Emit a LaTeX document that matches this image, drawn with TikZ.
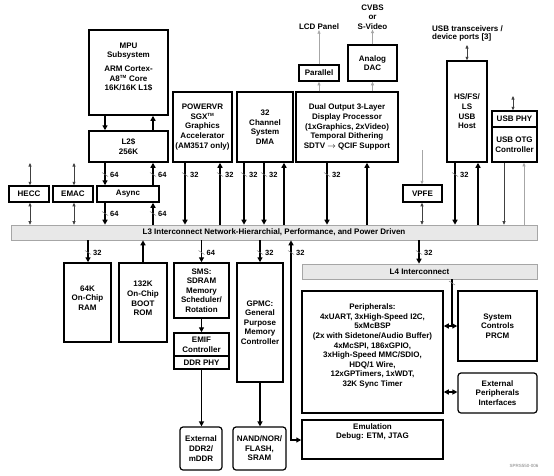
\documentclass[tikz,border=0pt]{standalone}
\usepackage{fontspec}
\setmainfont{Liberation Sans}
\usetikzlibrary{arrows.meta}
\newcommand\fs{\fontsize{8}{9.6}\selectfont\bfseries}
\newcommand\tm{\textsuperscript{\fontsize{4.5}{5}\selectfont TM}}
\begin{document}
\begin{tikzpicture}[x=1pt,y=-1pt,
  box/.style={draw, line width=1.5pt, fill=white, inner sep=0pt, align=center, font=\fs},
  rbox/.style={box, line width=1.2pt, rounded corners=3pt},
  bar/.style={draw=gray!70, fill=gray!18, line width=0.6pt, inner sep=0pt, font=\fs},
  txt/.style={inner sep=0pt, align=center, font=\fs},
  thk/.style={line width=1.6pt, -{Triangle[length=5pt,width=5pt]}},
  thkline/.style={line width=1.6pt},
  thkboth/.style={line width=1.6pt, {Triangle[length=5pt,width=5pt]}-{Triangle[length=5pt,width=5pt]}},
  thn/.style={line width=0.6pt, black!75, -{Triangle[length=3.5pt,width=3pt]}},
  thnboth/.style={line width=0.6pt, black!75, {Triangle[length=3.5pt,width=3pt]}-{Triangle[length=3.5pt,width=3pt]}},
  thngray/.style={line width=0.6pt, gray!70, -{Triangle[length=3.5pt,width=3pt]}},
  slash/.style={line width=0.5pt, gray},
  buslab/.style={anchor=west, inner sep=0pt, font=\fontsize{7.5}{8}\selectfont\bfseries}
]
\newcommand\bus[4]{\draw[slash] (#2-3,#3-2.5) -- (#2+3,#3+1.5); \node[buslab] (#1) at (#2+5,#3) {#4};}
\fill[white] (0,0) rectangle (554,475);
\useasboundingbox (0,0) rectangle (554,475);

% ---------- upper boxes ----------
\node[box, minimum width=79pt, minimum height=85pt] (mpu) at (128.5,72.5) {};
\node[txt] (mputxt) at (128.5,67) {MPU\\Subsystem\\[4pt]ARM Cortex-\\A8\tm{} Core\\16K/16K L1\$};
\node[box, minimum width=79pt, minimum height=31pt] (l2) at (128.5,146.5) {L2\$\\256K};
\node[box, minimum width=62pt, minimum height=16pt] (async) at (128,194) {Async};
\node[box, minimum width=40pt, minimum height=16pt] (hecc) at (29,194) {HECC};
\node[box, minimum width=40pt, minimum height=16pt] (emac) at (73,194) {EMAC};
\node[box, minimum width=59pt, minimum height=70pt] (sgx) at (202.5,127) {POWERVR\\SGX\tm\\Graphics\\Accelerator\\(AM3517 only)};
\node[box, minimum width=56pt, minimum height=70pt] (dma) at (265,127) {32\\Channel\\System\\DMA};
\node[box, minimum width=102pt, minimum height=70pt] (dss) at (347,127) {Dual Output 3-Layer\\Display Processor\\(1xGraphics, 2xVideo)\\Temporal Dithering\\SDTV $\rightarrow$ QCIF Support};
\node[box, minimum width=40pt, minimum height=16pt] (par) at (319,73) {Parallel};
\node[box, minimum width=49pt, minimum height=36pt] (dac) at (372.5,63) {Analog\\DAC};
\node[txt] (lcd) at (319,27) {LCD Panel};
\node[txt] (cvbs) at (372.5,17) {CVBS\\or\\S-Video};
\node[box, minimum width=40pt, minimum height=101pt] (usbh) at (467,111.5) {HS/FS/\\LS\\USB\\Host};
\node[txt, anchor=west] (usbt) at (432,34) {\begin{tabular}{@{}l@{}}USB transceivers /\\[-1.5pt]device ports [3]\end{tabular}};
\node[box, minimum width=45pt, minimum height=16pt] (uphy) at (514.5,119) {USB PHY};
\node[box, minimum width=45pt, minimum height=35pt] (uotg) at (514.5,144.5) {USB OTG\\Controller};
\node[box, minimum width=39pt, minimum height=17pt] (vpfe) at (422.5,193.5) {VPFE};

% ---------- interconnects ----------
\node[bar, minimum width=526pt, minimum height=15pt] (l3) at (274,232.5) {L3 Interconnect Network-Hierarchial, Performance, and Power Driven};
\node[bar, minimum width=235pt, minimum height=15pt] (l4) at (419.5,271.5) {L4 Interconnect};

% ---------- lower boxes ----------
\node[box, minimum width=47pt, minimum height=79pt] (ram) at (87.5,302.5) {};
\node[txt] (ramtxt) at (87.5,298) {64K\\On-Chip\\RAM};
\node[box, minimum width=48pt, minimum height=79pt] (rom) at (143,302.5) {};
\node[txt] (romtxt) at (143,298.5) {132K\\On-Chip\\BOOT\\ROM};
\node[box, minimum width=55pt, minimum height=55pt] (sms) at (201.5,290.5) {SMS:\\SDRAM\\Memory\\Scheduler/\\Rotation};
\node[box, minimum width=55pt, minimum height=23pt] (emif) at (201.5,344.5) {EMIF\\Controller};
\node[box, minimum width=55pt, minimum height=13pt] (ddrphy) at (201.5,362.5) {DDR PHY};
\node[rbox, minimum width=42pt, minimum height=43pt] (xddr) at (201,448.5) {External\\DDR2/\\mDDR};
\node[box, minimum width=46pt, minimum height=119pt] (gpmc) at (260,322.5) {GPMC:\\General\\Purpose\\Memory\\Controller};
\node[rbox, minimum width=53pt, minimum height=43pt] (nand) at (259.5,448.5) {NAND/NOR/\\FLASH,\\SRAM};
\node[box, minimum width=141pt, minimum height=122pt] (per) at (372.5,352) {};
\node[txt] (pertxt) at (372.5,346) {Peripherals:\\4xUART, 3xHigh-Speed I2C,\\5xMcBSP\\(2x with Sidetone/Audio Buffer)\\4xMcSPI, 186xGPIO,\\3xHigh-Speed MMC/SDIO,\\HDQ/1 Wire,\\12xGPTimers, 1xWDT,\\32K Sync Timer};
\node[box, minimum width=79pt, minimum height=70pt] (prcm) at (497.5,326) {System\\Controls\\PRCM};
\node[rbox, minimum width=79pt, minimum height=40pt] (xper) at (497.5,393) {External\\Peripherals\\Interfaces};
\node[box, minimum width=141pt, minimum height=39pt] (emu) at (372.5,439.5) {};
\node[txt] (emutxt) at (372.5,432) {Emulation\\Debug: ETM, JTAG};
\node[inner sep=0pt, text=gray, font=\fontsize{4.5}{5}\selectfont] (ref) at (524,466) {SPRS550-006};

% ---------- connectors, upper ----------
\draw[thk] (mpu.south -| 105,0) -- (l2.north -| 105,0);
\draw[thk] (l2.north -| 153,0) -- (mpu.south -| 153,0);
\draw[thk] (l2.south -| 105,0) -- (async.north -| 105,0);
\draw[thk] (async.north -| 153,0) -- (l2.south -| 153,0);
\draw[thk] (async.south -| 105,0) -- (l3.north -| 105,0);
\draw[thk] (l3.north -| 153,0) -- (async.south -| 153,0);
\bus{b1}{105}{175}{64}\bus{b2}{153}{175}{64}
\bus{b3}{105}{214}{64}\bus{b4}{153}{214}{64}

\coordinate (heccin) at (30,163);
\coordinate (emacin) at (74,163);
\draw[thnboth] (heccin) -- (hecc.north -| heccin);
\draw[thnboth] (hecc.south -| heccin) -- (l3.north -| heccin);
\draw[thnboth] (emacin) -- (emac.north -| emacin);
\draw[thnboth] (emac.south -| emacin) -- (l3.north -| emacin);

\draw[thk] (sgx.south -| 185,0) -- (l3.north -| 185,0);
\draw[thk] (l3.north -| 220,0) -- (sgx.south -| 220,0);
\bus{b5}{185}{175}{32}\bus{b6}{220}{175}{32}

\draw[thk] (dma.south -| 244,0) -- (l3.north -| 244,0);
\draw[thk] (dma.south -| 264,0) -- (l3.north -| 264,0);
\draw[thk] (l3.north -| 284,0) -- (dma.south -| 284,0);
\bus{b7}{244}{175}{32}\bus{b8}{264}{175}{32}

\draw[thk] (dss.south -| 327,0) -- (l3.north -| 327,0);
\draw[thk] (l3.north -| 367,0) -- (dss.south -| 367,0);
\bus{b9}{327}{175}{32}

\draw[thngray] (dss.north -| par.south) -- (par.south);
\draw[thngray] (par.north) -- (lcd.south);
\draw[thngray] (dss.north -| dac.south) -- (dac.south);
\draw[thngray] (dac.north) -- (cvbs.south);

\coordinate (usbtop) at (467,45);
\draw[thnboth] (usbtop) -- (usbh.north);
\draw[thk] (usbh.south -| 455,0) -- (l3.north -| 455,0);
\draw[thk] (l3.north -| 478,0) -- (usbh.south -| 478,0);
\bus{b10}{455}{175}{32}

\coordinate (phytop) at (513,96);
\draw[thnboth] (phytop) -- (uphy.north -| phytop);
\draw[thn] (uotg.south -| 504,0) -- (l3.north -| 504,0);
\draw[thngray] (l3.north -| 524,0) -- (uotg.south -| 524,0);

\coordinate (vpfein) at (422,150);
\draw[thngray] (vpfein) -- (vpfe.north -| vpfein);
\draw[thnboth] (vpfe.south -| vpfein) -- (l3.north -| vpfein);

% ---------- connectors, lower ----------
\draw[thk] (l3.south -| 88,0) -- (ram.north -| 88,0);
\bus{b11}{88}{253}{32}
\draw[thk] (rom.north) -- (l3.south -| rom.north);
\draw[thk] (l3.south -| sms.north) -- (sms.north);
\bus{b12}{201.5}{253}{64}
\draw[thk] (sms.south) -- (emif.north);
\draw[thk] (ddrphy.south) -- (xddr.north -| ddrphy.south);
\draw[thk] (l3.south -| gpmc.north) -- (gpmc.north);
\bus{b13}{260}{253}{32}
\draw[thk] (gpmc.south) -- (nand.north -| gpmc.south);

\draw[thkboth] (l3.south -| 291,0) -- (291,440) -- (emu.west |- 0,440);
\bus{b14}{291}{253}{32}
\draw[thk] (l3.south -| 419,0) -- (l4.north -| 419,0);
\bus{b15}{419}{253}{32}

\coordinate (l4tap) at (452,326);
\draw[thkline] (l4.south -| l4tap) -- (l4tap);
\draw[slash] (449,281) -- (455,285);
\draw[thkboth] (per.east |- l4tap) -- (prcm.west |- l4tap);
\draw[thkboth] (per.east |- 0,392) -- (xper.west |- 0,392);
\end{tikzpicture}
\end{document}
